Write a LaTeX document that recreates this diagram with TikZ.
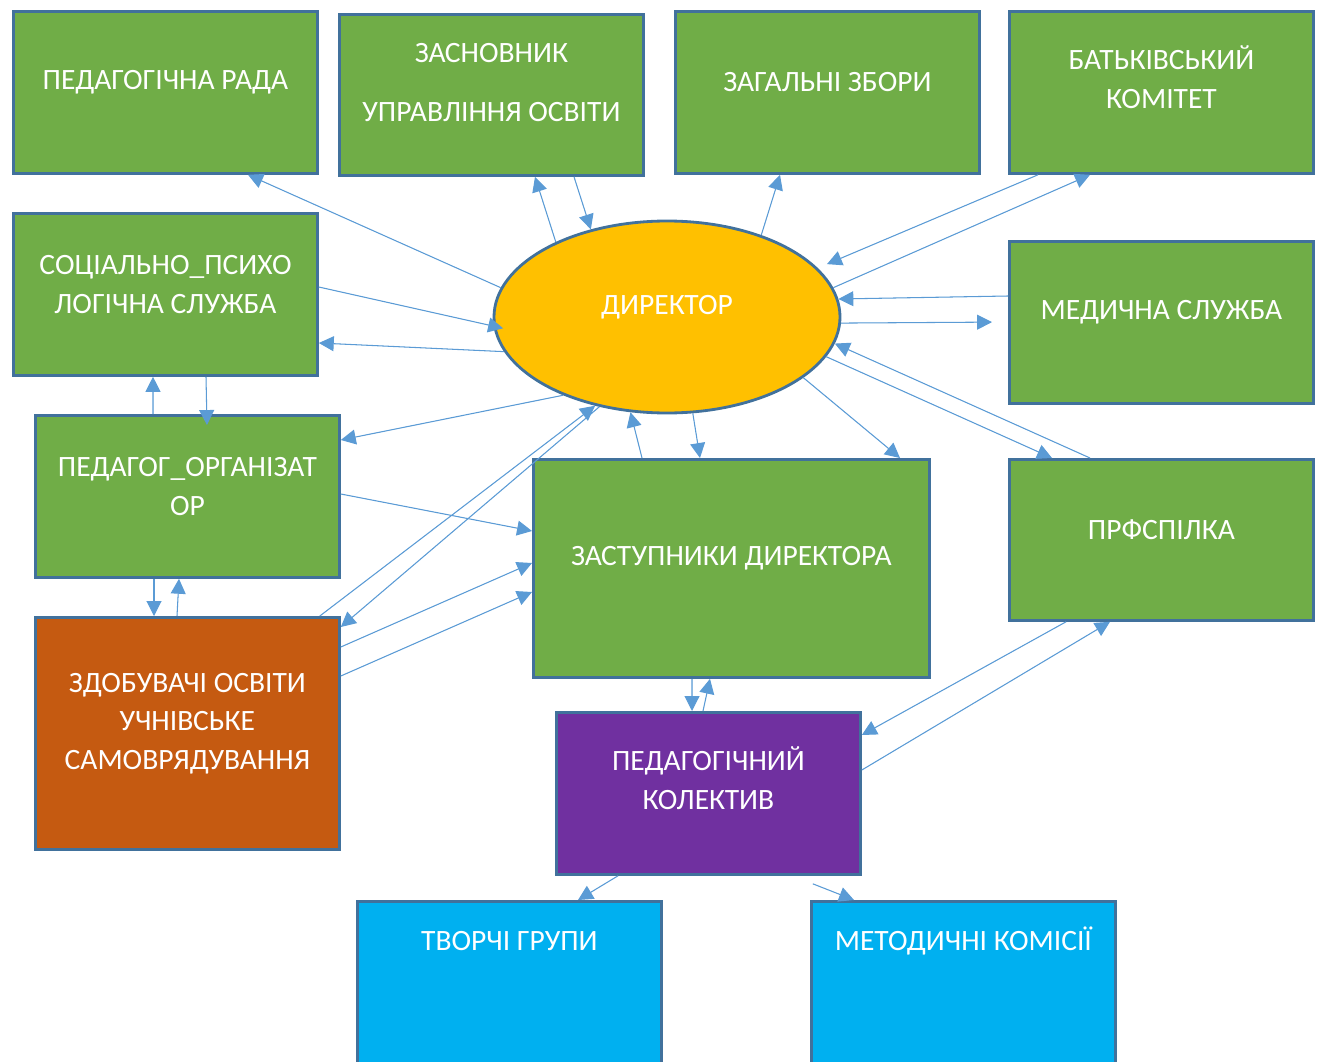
\documentclass[tikz,border=0pt]{standalone}
\usepackage{fontspec}
\setmainfont{Carlito}
\usepackage{xcolor}
\usepackage{tikz}
\usetikzlibrary{arrows.meta, positioning, shapes.geometric, calc}

\definecolor{boxgreen}{HTML}{70AD47}
\definecolor{edgeblue}{HTML}{41719C}
\definecolor{diryellow}{HTML}{FFC000}
\definecolor{pupilorange}{HTML}{C55A11}
\definecolor{staffpurple}{HTML}{7030A0}
\definecolor{groupcyan}{HTML}{00B0F0}
\definecolor{arrowblue}{HTML}{5B9BD5}

\begin{document}
\begin{tikzpicture}[
        box/.style={rectangle, draw=edgeblue, line width=1.6pt, anchor=north west, inner sep=0pt, minimum width=6.08cm, minimum height=3.24cm},
        txt/.style={text=white, align=center, font=\fontsize{16.8}{22}\selectfont, yshift=0.2cm},
        arrow/.style={-{Triangle[length=8.5pt, width=8.5pt]}, line width=0.6pt, draw=arrowblue, fill=arrowblue},
    ]
        \useasboundingbox (0,0) rectangle (26.42,-21.22);
        \clip (0,0) rectangle (26.42,-21.22);

        % Top row
        \node[box, fill=boxgreen, label={[txt]center:{ПЕДАГОГІЧНА РАДА}}] (rada) at (0.24,-0.20) {};
        \node[box, fill=boxgreen, minimum height=3.22cm, label={[txt, yshift=0.05cm]center:{ЗАСНОВНИК\\[12pt]УПРАВЛІННЯ ОСВІТИ}}] (zasn) at (6.76,-0.26) {};
        \node[box, fill=boxgreen, label={[txt]center:{ЗАГАЛЬНІ ЗБОРИ}}] (zbory) at (13.48,-0.20) {};
        \node[box, fill=boxgreen, label={[txt, yshift=0.1cm]center:{БАТЬКІВСЬКИЙ\\КОМІТЕТ}}] (batk) at (20.16,-0.20) {};

        % Side boxes
        \node[box, fill=boxgreen, label={[txt]center:{СОЦІАЛЬНО\_ПСИХО\\ЛОГІЧНА СЛУЖБА}}] (soc) at (0.24,-4.24) {};
        \node[box, fill=boxgreen, label={[txt]center:{МЕДИЧНА СЛУЖБА}}] (med) at (20.16,-4.80) {};
        \node[box, fill=boxgreen, label={[txt]center:{ПЕДАГОГ\_ОРГАНІЗАТ\\ОР}}] (orgzr) at (0.68,-8.28) {};
        \node[box, fill=boxgreen, minimum width=7.92cm, minimum height=4.36cm, label={[txt]center:{ЗАСТУПНИКИ ДИРЕКТОРА}}] (zast) at (10.64,-9.16) {};
        \node[box, fill=boxgreen, minimum height=3.22cm, label={[txt]center:{ПРФСПІЛКА}}] (prof) at (20.16,-9.16) {};
        \node[box, fill=pupilorange, minimum height=4.64cm, label={[txt]center:{ЗДОБУВАЧІ ОСВІТИ\\УЧНІВСЬКЕ\\САМОВРЯДУВАННЯ}}] (zdob) at (0.68,-12.32) {};
        \node[box, fill=staffpurple, label={[txt, yshift=0.1cm]center:{ПЕДАГОГІЧНИЙ\\КОЛЕКТИВ}}] (kolek) at (11.10,-14.22) {};

        % Bottom row
        \node[box, fill=groupcyan, minimum height=4cm, label={[txt, yshift=1.0cm]center:{ТВОРЧІ ГРУПИ}}] (tvor) at (7.12,-18.00) {};
        \node[box, fill=groupcyan, minimum height=4cm, label={[txt, yshift=1.0cm]center:{МЕТОДИЧНІ КОМІСІЇ}}] (metod) at (16.20,-18.00) {};

        % Director
        \node[ellipse, draw=edgeblue, line width=1.6pt, fill=diryellow, inner sep=0pt, minimum width=6.92cm, minimum height=3.84cm, label={[txt]center:{ДИРЕКТОР}}] (dir) at (13.34,-6.34) {};

        % Arrows to the top row
        \draw[arrow] (dir.170) -- ([xshift=4.72cm]rada.south west);
        \draw[arrow] (dir.146) -- ([xshift=3.94cm]zasn.south west);
        \draw[arrow] ([xshift=4.72cm]zasn.south west) -- (dir.131);
        \draw[arrow] (dir.41) -- ([xshift=2.12cm]zbory.south west);
        \draw[arrow, shorten >=0.2cm] ([xshift=0.6cm]batk.south west) -- (dir.18);
        \draw[arrow] (dir.10) -- ([xshift=1.64cm]batk.south west);

        % Right side
        \draw[arrow] ([yshift=-1.12cm]med.north west) -- (dir.6);
        \draw[arrow, shorten >=0.32cm] (dir.358) -- ([yshift=-1.64cm]med.north west);
        \draw[arrow] ([xshift=1.64cm]prof.north west) -- (dir.351);
        \draw[arrow] (dir.346) -- ([xshift=0.88cm]prof.north west);
        \draw[arrow] (dir.336) -- ([xshift=7.36cm]zast.north west);
        \draw[arrow] (dir.285) -- ([xshift=3.36cm]zast.north west);
        \draw[arrow] ([xshift=2.2cm]zast.north west) -- (dir.249);

        % Left side
        \draw[arrow] (dir.192) -- ([yshift=-2.62cm]soc.north east);
        \draw[arrow, shorten >=-0.2cm] ([yshift=-1.5cm]soc.north east) -- (dir.183);
        \draw[arrow] (dir.217) -- ([yshift=-0.52cm]orgzr.north east);
        \draw[arrow] ([yshift=-1.6cm]orgzr.north east) -- ([yshift=-1.46cm]zast.north west);
        \draw[arrow] ([xshift=-0.42cm]zdob.north east) -- (dir.231);
        \draw[arrow] (dir.233) -- ([yshift=-0.22cm]zdob.north east);
        \draw[arrow] ([yshift=-0.62cm]zdob.north east) -- ([yshift=-2.1cm]zast.north west);
        \draw[arrow] ([yshift=-1.2cm]zdob.north east) -- ([yshift=-2.68cm]zast.north west);

        % Vertical pairs on the left
        \draw[arrow] ([xshift=2.38cm]orgzr.north west) -- ([xshift=2.82cm]soc.south west);
        \draw[arrow] ([xshift=3.88cm]soc.south west) -- ([xshift=3.46cm, yshift=-0.22cm]orgzr.north west);
        \draw[arrow] ([xshift=2.4cm]orgzr.south west) -- ([xshift=2.4cm]zdob.north west);
        \draw[arrow] ([xshift=2.86cm]zdob.north west) -- ([xshift=2.9cm]orgzr.south west);

        % Lower part
        \draw[arrow] ([xshift=3.2cm]zast.south west) -- ([xshift=2.74cm]kolek.north west);
        \draw[arrow] ([xshift=2.96cm]kolek.north west) -- ([xshift=3.56cm]zast.south west);
        \draw[arrow] ([xshift=1.16cm]prof.south west) -- ([yshift=-0.48cm]kolek.north east);
        \draw[arrow] ([yshift=-1.18cm]kolek.north east) -- ([xshift=2.04cm]prof.south west);
        \draw[arrow] ([xshift=1.26cm]kolek.south west) -- ([xshift=4.44cm]tvor.north west);
        \draw[arrow] ([xshift=-0.98cm, yshift=-0.16cm]kolek.south east) -- ([xshift=0.88cm]metod.north west);
    \end{tikzpicture}
\end{document}
